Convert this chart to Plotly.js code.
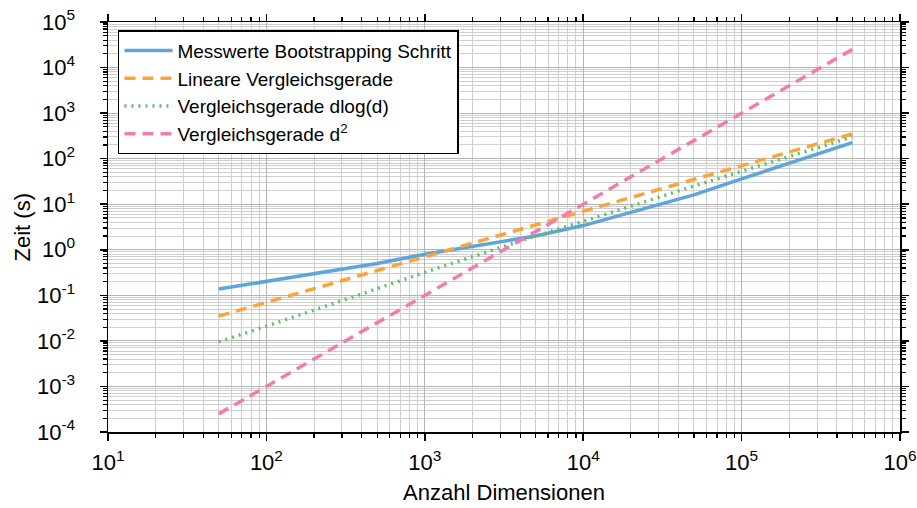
<!DOCTYPE html>
<html>
<head>
<meta charset="utf-8">
<script src="https://cdn.plot.ly/plotly-3.0.1.min.js"></script>
<style>html,body{margin:0;padding:0;background:#fff;}#chart{width:917px;height:508px;}</style>
</head>
<body>
<div id="chart"></div>
<script>
// Data
const dims = [50, 100, 500, 1000, 5000, 10000, 50000, 100000, 500000];
const messwerte = [0.137, 0.2, 0.5, 0.8, 2.0, 3.4, 16, 36, 225];
const linear = [0.035, 0.07, 0.35, 0.7, 3.5, 7, 35, 70, 350];
const dlogd = [0.0095, 0.021, 0.14, 0.32, 2.0, 4.2, 25, 53, 300];
const dsquared = [0.00025, 0.001, 0.025, 0.1, 2.5, 10, 250, 1000, 25000];

const seriesNames = ["Messwerte Bootstrapping Schritt", "Lineare Vergleichsgerade", "Vergleichsgerade dlog(d)", "Vergleichsgerade d<sup>2</sup>"];
const xTitle = "Anzahl Dimensionen";
const yTitle = "Zeit (s)";

const xTickVals = [10, 100, 1000, 10000, 100000, 1000000];
const xTickText = ["10<sup>1</sup>", "10<sup>2</sup>", "10<sup>3</sup>", "10<sup>4</sup>", "10<sup>5</sup>", "10<sup>6</sup>"];
const yTickVals = [1e-4, 1e-3, 1e-2, 1e-1, 1, 10, 100, 1000, 10000, 100000];
const yTickText = ["10<sup>-4</sup>", "10<sup>-3</sup>", "10<sup>-2</sup>", "10<sup>-1</sup>", "10<sup>0</sup>", "10<sup>1</sup>", "10<sup>2</sup>", "10<sup>3</sup>", "10<sup>4</sup>", "10<sup>5</sup>"];

function minorVals(lo, hi) {
  const v = [];
  for (let e = lo; e < hi; e++) for (let m = 2; m <= 9; m++) v.push(m * Math.pow(10, e));
  return v;
}

const FONT = "Liberation Sans, Arial, sans-serif";

const traces = [
  {x: dims, y: messwerte, name: seriesNames[0], mode: "lines", line: {color: "#5DA5DA", width: 3.5}},
  {x: dims, y: linear, name: seriesNames[1], mode: "lines", line: {color: "#FAA43A", width: 3.5, dash: "11px,7px"}},
  {x: dims, y: dlogd, name: seriesNames[2], mode: "lines", line: {color: "#60BD68", width: 3.5, dash: "2px,5px"}},
  {x: dims, y: dsquared, name: seriesNames[3], mode: "lines", line: {color: "#F17CB0", width: 3.5, dash: "11px,7px"}}
];

const axisCommon = {
  type: "log",
  showline: true, linecolor: "#000", linewidth: 1.5, mirror: "allticks",
  ticks: "outside", ticklen: 7, tickwidth: 1.5, tickcolor: "#000",
  showgrid: true, gridcolor: "#b4b4b4", gridwidth: 1,
  zeroline: false,
  tickfont: {family: FONT, size: 22, color: "#000"},
  ticklabeloverflow: "allow",
  tickmode: "array"
};

const layout = {
  width: 917, height: 508,
  margin: {l: 108, r: 17, t: 22, b: 76},
  paper_bgcolor: "#fff", plot_bgcolor: "#fff",
  font: {family: FONT, size: 19, color: "#000"},
  showlegend: true,
  legend: {
    x: 0.0126, y: 0.98, xanchor: "left", yanchor: "top",
    bgcolor: "#fff", bordercolor: "#000", borderwidth: 1.5,
    font: {family: FONT, size: 19, color: "#000"},
    itemwidth: 48,
    tracegroupgap: 0
  },
  xaxis: Object.assign({}, axisCommon, {
    range: [1, 6], tickvals: xTickVals, ticktext: xTickText,
    ticklabelstandoff: 3,
    minor: {tickmode: "array", tickvals: minorVals(1, 6), ticks: "outside", ticklen: 4, tickwidth: 1.2, tickcolor: "#000", showgrid: true, gridcolor: "#cfcfcf", gridwidth: 1},
    title: {text: xTitle, font: {family: FONT, size: 22}, standoff: 10}
  }),
  yaxis: Object.assign({}, axisCommon, {
    range: [-4, 5], tickvals: yTickVals, ticktext: yTickText,
    ticklabelstandoff: 20,
    minor: {tickmode: "array", tickvals: minorVals(-4, 5), ticks: "outside", ticklen: 4, tickwidth: 1.2, tickcolor: "#000", showgrid: true, gridcolor: "#cfcfcf", gridwidth: 1}
  }),
  annotations: [{
    text: yTitle, xref: "paper", yref: "paper", x: -0.108, y: 0.5,
    xanchor: "center", yanchor: "middle", textangle: -90, showarrow: false,
    font: {family: FONT, size: 22, color: "#000"}
  }]
};

Plotly.newPlot("chart", traces, layout, {displayModeBar: false, staticPlot: true});
</script>
</body>
</html>
